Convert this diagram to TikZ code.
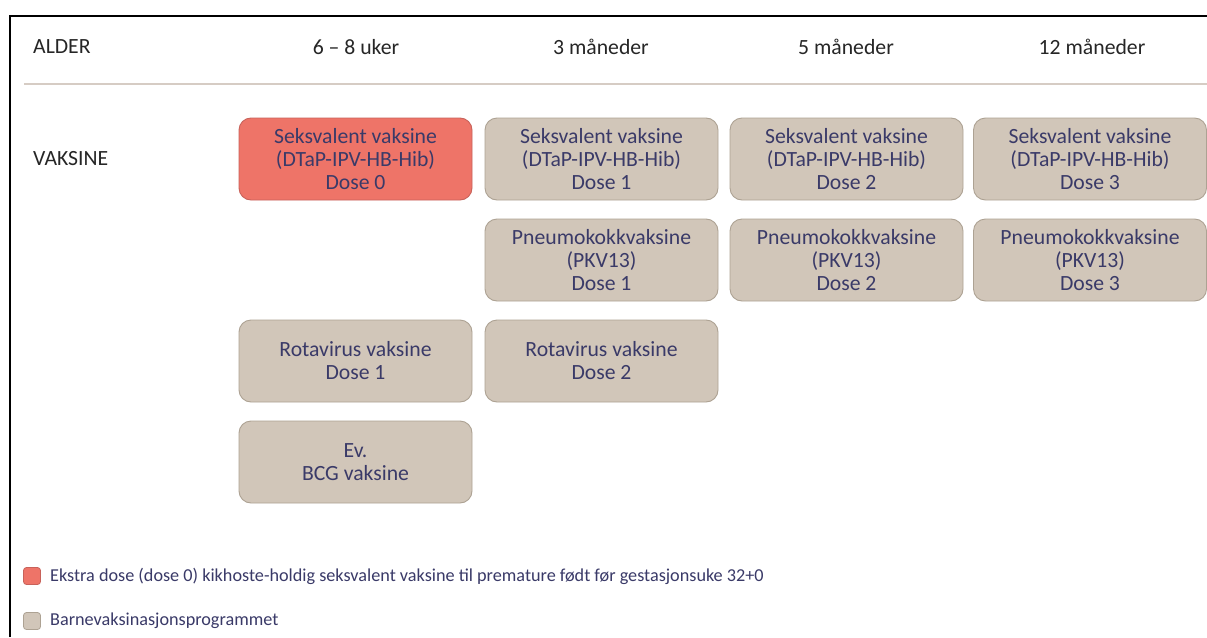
\documentclass[tikz,border=0pt]{standalone}
\usepackage{fontspec}
\setmainfont{Carlito}
\definecolor{tan}{HTML}{D1C6B9}
\definecolor{tanborder}{HTML}{ADA293}
\definecolor{redbox}{HTML}{EE7468}
\definecolor{redborder}{HTML}{C8625A}
\definecolor{txt}{HTML}{3A3A68}
\definecolor{sep}{HTML}{D6CCC4}
\begin{document}
\begin{tikzpicture}[x=1pt,y=-1pt,
  vbox/.style={draw=tanborder,fill=tan,rounded corners=12pt,line width=0.9pt,
    minimum width=233pt,minimum height=82pt,align=center,text=txt,
    font=\fontsize{21.7}{23}\selectfont,inner sep=0pt},
  redvbox/.style={vbox,draw=redborder,fill=redbox},
  head/.style={font=\fontsize{21.7}{23}\selectfont,text=black!85,inner sep=0pt},
  legsq/.style={draw=tanborder,fill=tan,rounded corners=3pt,line width=0.8pt,minimum size=17pt,inner sep=0pt},
  legtxt/.style={font=\fontsize{18.2}{20}\selectfont,text=txt,anchor=west,inner sep=0pt}]
\useasboundingbox (0,0) rectangle (1207,637);
\fill[white] (0,0) rectangle (1207,637);
% frame
\draw[line width=1.2pt,black] (10,637) -- (10,16) -- (1207,16);
% header separator
\draw[sep,line width=2.8pt] (24,84) -- (1207,84);
% headers
\node[head,anchor=west] (alder) at (33,47) {ALDER};
\node[head] (h1) at (356,47) {6 – 8 uker};
\node[head] (h2) at (601,47) {3 måneder};
\node[head] (h3) at (846,47) {5 måneder};
\node[head] (h4) at (1092,47) {12 måneder};
\node[head,anchor=west] (vaksine) at (33,159) {VAKSINE};
% row 1
\node[redvbox] (s0) at (355.5,159) {Seksvalent vaksine\\(DTaP-IPV-HB-Hib)\\Dose 0};
\node[vbox] (s1) at (601.5,159) {Seksvalent vaksine\\(DTaP-IPV-HB-Hib)\\Dose 1};
\node[vbox] (s2) at (846.5,159) {Seksvalent vaksine\\(DTaP-IPV-HB-Hib)\\Dose 2};
\node[vbox] (s3) at (1090,159) {Seksvalent vaksine\\(DTaP-IPV-HB-Hib)\\Dose 3};
% row 2
\node[vbox] (p1) at (601.5,260) {Pneumokokkvaksine\\(PKV13)\\Dose 1};
\node[vbox] (p2) at (846.5,260) {Pneumokokkvaksine\\(PKV13)\\Dose 2};
\node[vbox] (p3) at (1090,260) {Pneumokokkvaksine\\(PKV13)\\Dose 3};
% row 3
\node[vbox] (r1) at (355.5,361) {Rotavirus vaksine\\Dose 1};
\node[vbox] (r2) at (601.5,361) {Rotavirus vaksine\\Dose 2};
% row 4
\node[vbox] (bcg) at (355.5,462) {Ev.\\BCG vaksine};
% legend
\node[legsq,draw=redborder,fill=redbox] (lr) at (32,576) {};
\node[legtxt] (lrt) at (50,576) {Ekstra dose (dose 0) kikhoste-holdig seksvalent vaksine til premature født før gestasjonsuke 32+0};
\node[legsq] (lt) at (32,621) {};
\node[legtxt] (ltt) at (50,621) {Barnevaksinasjonsprogrammet};
\end{tikzpicture}
\end{document}
